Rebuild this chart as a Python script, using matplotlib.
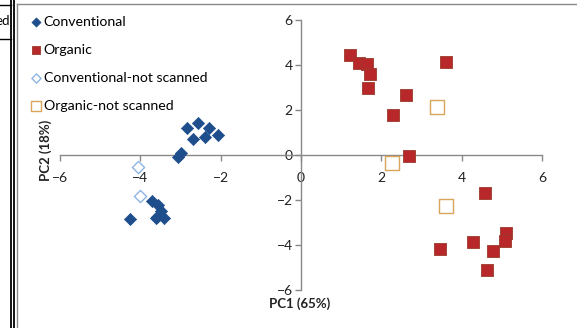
import matplotlib.pyplot as plt
from matplotlib.lines import Line2D

# PCA scores
conv_x = [-2.84, -2.56, -2.29, -2.69, -2.39, -2.06, -3.06, -2.99,
          -4.25, -3.70, -3.56, -3.48, -3.58, -3.41, -3.62]
conv_y = [1.20, 1.42, 1.20, 0.71, 0.80, 0.89, -0.09, 0.09,
          -2.84, -2.04, -2.20, -2.50, -2.76, -2.80, -2.78]
conv_ns_x = [-4.05, -4.00]
conv_ns_y = [-0.53, -1.82]
org_x = [1.22, 1.44, 1.64, 1.72, 1.67, 2.61, 2.29, 3.61, 2.69,
         4.58, 5.10, 5.07, 4.28, 4.78, 3.46, 4.63]
org_y = [4.44, 4.09, 4.04, 3.60, 2.98, 2.67, 1.78, 4.13, -0.04,
         -1.69, -3.47, -3.82, -3.87, -4.27, -4.18, -5.11]
org_ns_x = [3.38, 2.26, 3.61]
org_ns_y = [2.13, -0.36, -2.27]
ticks = [-6, -4, -2, 0, 2, 4, 6]

plt.rcParams['font.family'] = ['Lato', 'DejaVu Sans']

W, H = 577, 328
fig = plt.figure(figsize=(W / 100, H / 100), dpi=100)
ax = fig.add_axes([60 / W, (H - 290) / H, 482 / W, 270 / H])

blue = '#1F4E8C'
red = '#B8282B'
ax.scatter(conv_x, conv_y, marker='D', s=6.2**2, color=blue, edgecolor=blue,
           linewidths=0.5, label='Conventional', zorder=3)
ax.scatter(org_x, org_y, marker='s', s=8**2, color=red, edgecolor='#9A3A2A',
           linewidths=0.6, label='Organic', zorder=3)
ax.scatter(conv_ns_x, conv_ns_y, marker='D', s=6.2**2, facecolor='white',
           edgecolor='#8DB4E2', linewidths=1, label='Conventional-not scanned', zorder=3)
ax.scatter(org_ns_x, org_ns_y, marker='s', s=10**2, facecolor='white',
           edgecolor='#D9A55B', linewidths=1, label='Organic-not scanned', zorder=3)

ax.set_xlim(-6, 6)
ax.set_ylim(-6, 6)
ax.set_xticks(ticks)
ax.set_yticks(ticks)
for s in ['top', 'right']:
    ax.spines[s].set_visible(False)
for s in ['left', 'bottom']:
    ax.spines[s].set_position('zero')
    ax.spines[s].set_color('#898989')
    ax.spines[s].set_linewidth(1)
ax.tick_params(colors='#898989', labelcolor='#222222', labelsize=10,
               length=4, width=1, direction='out')
ax.tick_params(axis='x', pad=8)
ax.tick_params(axis='y', pad=2)

fig.text(300 / W, 1 - 304 / H, 'PC1 (65%)', ha='center', va='center',
         fontsize=9.5, fontweight='bold', color='#222222')
fig.text(46 / W, 1 - 150 / H, 'PC2 (18%)', ha='center', va='center',
         rotation=90, fontsize=9.5, fontweight='bold', color='#222222')

leg = ax.legend(loc='upper left', bbox_to_anchor=(21 / W, 1 - 9 / H),
                bbox_transform=fig.transFigure, frameon=False, fontsize=10.2,
                handletextpad=0.0, labelspacing=1.12, borderpad=0,
                handlelength=1.1, markerscale=0.75)

# page furniture around the chart
def fline(x0, y0, x1, y1, c, lw):
    fig.add_artist(Line2D([x0 / W, x1 / W], [1 - y0 / H, 1 - y1 / H],
                          color=c, lw=lw, transform=fig.transFigure))

fline(11, 0, 11, H, 'black', 1.3)
fline(14, 0, 14, H, 'black', 1.3)
fline(16.5, 4, 16.5, H, '#8a8a8a', 1)
fline(16.5, 4, W, 4, '#8a8a8a', 1)
fline(0, 5, 11, 5, 'black', 1)
fline(0, 39, 11, 39, 'black', 1)
fig.text(10 / W, 1 - 21 / H, 'ed', ha='right', va='center', fontsize=9.5,
         color='black')

fig.savefig('out.png', dpi=100)
